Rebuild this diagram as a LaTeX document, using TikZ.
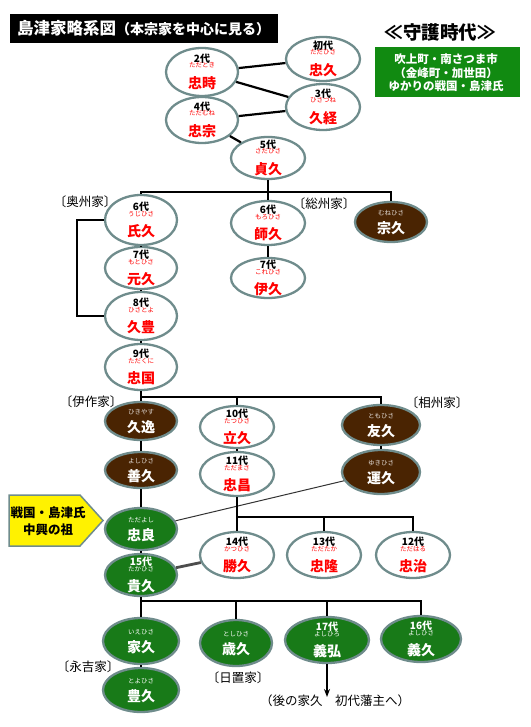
\documentclass[tikz,border=0pt]{standalone}
\usepackage{fontspec}
\setmainfont{Noto Sans CJK JP}
\usetikzlibrary{shapes.geometric,arrows.meta}
\definecolor{rim}{HTML}{6F8C8C}
\definecolor{brownfill}{HTML}{4A2402}
\definecolor{greenfill}{HTML}{187A18}
\definecolor{boxgreen}{HTML}{118A11}
\newcommand\gthree[6]{\raisebox{-16.5pt}[0pt][0pt]{\vbox{\offinterlineskip\halign{\hfil##\hfil\cr
 \vrule height7pt width0pt\smash{\textcolor{#4}{\fontsize{10}{10}\selectfont\bfseries #1}}\cr
 \vrule height5.5pt width0pt\smash{\textcolor{#5}{\fontsize{6.5}{6.5}\selectfont #2}}\cr
 \vrule height20.5pt width0pt\smash{\textcolor{#6}{\fontsize{14}{14}\selectfont\bfseries #3}}\cr}}}}
\newcommand\gtwo[4]{\raisebox{-11.5pt}[0pt][0pt]{\vbox{\offinterlineskip\halign{\hfil##\hfil\cr
 \vrule height5pt width0pt\smash{\textcolor{#3}{\fontsize{6.5}{6.5}\selectfont #1}}\cr
 \vrule height18pt width0pt\smash{\textcolor{#4}{\fontsize{14}{14}\selectfont\bfseries #2}}\cr}}}}
\newcommand\whtgen[3]{\gthree{#1}{#2}{#3}{black}{red}{red}}
\newcommand\grngen[3]{\gthree{#1}{#2}{#3}{white}{white}{white}}
\newcommand\brngen[2]{\gtwo{#1}{#2}{white!85!brownfill}{white}}
\begin{document}
\begin{tikzpicture}[x=1pt,y=-1pt,
  gen/.style={ellipse, draw=rim, line width=2.3pt, inner sep=0pt},
  wgen/.style={gen, fill=white},
  bgen/.style={gen, fill=brownfill},
  ggen/.style={gen, fill=greenfill},
  link/.style={line width=2.2pt, black},
  thinlink/.style={line width=1pt, black!80},
  graylink/.style={line width=2.8pt, black!70},
  house/.style={font=\fontsize{12.5}{13}\selectfont, inner sep=0pt},
  sz/.style 2 args={minimum width=#1pt, minimum height=#2pt}]
\useasboundingbox (0,0) rectangle (530,727);
\fill[white] (0,0) rectangle (530,727);
% title
\fill[black] (10,14) rectangle (278,43);
\node[anchor=base west, inner sep=0pt, text=white, font=\bfseries] (title) at (17,35)
  {{\fontsize{16.5}{17}\selectfont 島津家略系図}{\fontsize{14}{14}\selectfont （本宗家を中心に見る）}};
\node[inner sep=0pt, font=\fontsize{18.5}{19}\selectfont\bfseries] (era) at (440,32) {≪守護時代≫};
\fill[boxgreen] (375,47) rectangle (520,97);
\node[inner sep=0pt, align=center, text=white, font=\fontsize{11.5}{13.5}\selectfont\bfseries] (yukari) at (446,73)
  {吹上町・南さつま市\\（金峰町・加世田）\\ゆかりの戦国・島津氏};
% nodes
\node[wgen, sz={74}{44}] (n1) at (323,59) {\whtgen{初代}{ただひさ}{忠久}};
\node[wgen, sz={72}{48}] (n2) at (202,72) {\whtgen{2代}{ただとき}{忠時}};
\node[wgen, sz={74}{46}] (n3) at (323,107) {\whtgen{3代}{ひさつね}{久経}};
\node[wgen, sz={72}{46}] (n4) at (202,120) {\whtgen{4代}{ただむね}{忠宗}};
\node[wgen, sz={74}{42}] (n5) at (268,158) {\whtgen{5代}{さだひさ}{貞久}};
\node[wgen, sz={72}{50}] (n6) at (141,220) {\whtgen{6代}{うじひさ}{氏久}};
\node[wgen, sz={72}{42}] (n7) at (141,268) {\whtgen{7代}{もとひさ}{元久}};
\node[wgen, sz={72}{48}] (n8) at (141,316) {\whtgen{8代}{ひさとよ}{久豊}};
\node[wgen, sz={72}{46}] (n9) at (141,367) {\whtgen{9代}{ただくに}{忠国}};
\node[wgen, sz={74}{44}] (moro) at (268,223) {\whtgen{6代}{もろひさ}{師久}};
\node[wgen, sz={74}{40}] (kore) at (268,278) {\whtgen{7代}{これひさ}{伊久}};
\node[bgen, sz={72}{40}] (mune) at (391,222) {\brngen{むねひさ}{宗久}};
\node[bgen, sz={72}{38}] (hisayasu) at (141,421) {\brngen{ひきやす}{久逸}};
\node[bgen, sz={72}{36}] (yoshihisaB) at (141,470) {\brngen{よしひさ}{善久}};
\node[wgen, sz={74}{42}] (n10) at (237,427) {\whtgen{10代}{たつひさ}{立久}};
\node[wgen, sz={74}{44}] (n11) at (237,474) {\whtgen{11代}{ただまさ}{忠昌}};
\node[bgen, sz={78}{40}] (tomo) at (381,425) {\brngen{ともひさ}{友久}};
\node[bgen, sz={78}{44}] (yuki) at (381,472) {\brngen{ゆきひさ}{運久}};
\node[ggen, sz={72}{42}] (tadayoshi) at (141,529) {\gtwo{ただよし}{忠良}{white}{white}};
\node[ggen, sz={72}{42}] (n15) at (141,575) {\grngen{15代}{たかひさ}{貴久}};
\node[wgen, sz={74}{46}] (n14) at (237,555) {\whtgen{14代}{かつひさ}{勝久}};
\node[wgen, sz={74}{46}] (n13) at (324,555) {\whtgen{13代}{ただたか}{忠隆}};
\node[wgen, sz={74}{46}] (n12) at (413,555) {\whtgen{12代}{ただはる}{忠治}};
\node[ggen, sz={76}{46}] (ie) at (141,641) {\gtwo{いえひさ}{家久}{white}{white}};
\node[ggen, sz={76}{44}] (toyo) at (141,690) {\gtwo{とよひさ}{豊久}{white}{white}};
\node[ggen, sz={72}{46}] (toshi) at (236,643) {\gtwo{としひさ}{歳久}{white}{white}};
\node[ggen, sz={84}{46}] (n17) at (327,640) {\grngen{17代}{よしひろ}{義弘}};
\node[ggen, sz={80}{46}] (n16) at (421,639) {\grngen{16代}{よしひさ}{義久}};
% house labels
\node[house] (oshu) at (85,202) {〔奥州家〕};
\node[house] (soshu) at (324,204) {〔総州家〕};
\node[house] (isaku) at (91,402) {〔伊作家〕};
\node[house] (soshuB) at (437,403) {〔相州家〕};
\node[house] (nagayoshi) at (88,667) {〔永吉家〕};
\node[house] (hioki) at (238,678) {〔日置家〕};
% yellow marker
\draw[draw=rim, line width=1.5pt, fill=yellow] (9,495) -- (80,495) -- (103,520.5) -- (80,546) -- (9,546) -- cycle;
\node[inner sep=0pt, align=center, font=\fontsize{12.5}{16.5}\selectfont\bfseries] (chuko) at (48,521) {戦国・島津氏\\中興の祖};
% bus coordinates
\coordinate (b1) at (0,192);
\coordinate (b2) at (0,397);
\coordinate (b3) at (0,517);
\coordinate (b4) at (0,601);
\coordinate (oshuX) at (77,0);
\coordinate (arrowend) at (327,697);
% connectors
\draw[link] (n2) -- (n1);
\draw[link] (n2) -- (n3);
\draw[link] (n4) -- (n3);
\draw[link] (n4) -- (n5);
\draw[link] (n5) -- (moro);
\draw[link] (n6.north) -- (n6.north |- b1) -- (mune.north |- b1) -- (mune.north);
\draw[link] (moro) -- (kore);
\draw[link] (n6) -- (n7);
\draw[link] (n7) -- (n8);
\draw[link] (n6.west) -- (n6.west -| oshuX) -- (n8.west -| oshuX) -- (n8.west);
\draw[link] (n8) -- (n9);
\draw[link] (n9) -- (hisayasu);
\draw[link] (hisayasu.north |- b2) -- (tomo.north |- b2) -- (tomo.north);
\draw[link] (n10.north) -- (n10.north |- b2);
\draw[link] (n10) -- (n11);
\draw[link] (tomo) -- (yuki);
\draw[link] (hisayasu) -- (yoshihisaB);
\draw[link] (yoshihisaB) -- (tadayoshi);
\draw[link] (tadayoshi) -- (n15);
\draw[thinlink] (yuki) -- (tadayoshi);
\draw[link] (n11) -- (n14);
\draw[link] (n14.north |- b3) -- (n12.north |- b3) -- (n12.north);
\draw[link] (n13.north) -- (n13.north |- b3);
\draw[graylink] (n15) -- (n14);
\draw[link] (n15) -- (ie);
\draw[link] (ie.north |- b4) -- (n16.north |- b4) -- (n16.north);
\draw[link] (toshi.north) -- (toshi.north |- b4);
\draw[link] (n17.north) -- (n17.north |- b4);
\draw[link] (ie) -- (toyo);
\draw[line width=1.5pt, -{Stealth[length=8pt,width=6pt]}] (n17.south) -- (arrowend);
\node[inner sep=0pt, font=\fontsize{12.5}{13}\selectfont] (note) at (335,701) {（後の家久　初代藩主へ）};
\end{tikzpicture}
\end{document}
